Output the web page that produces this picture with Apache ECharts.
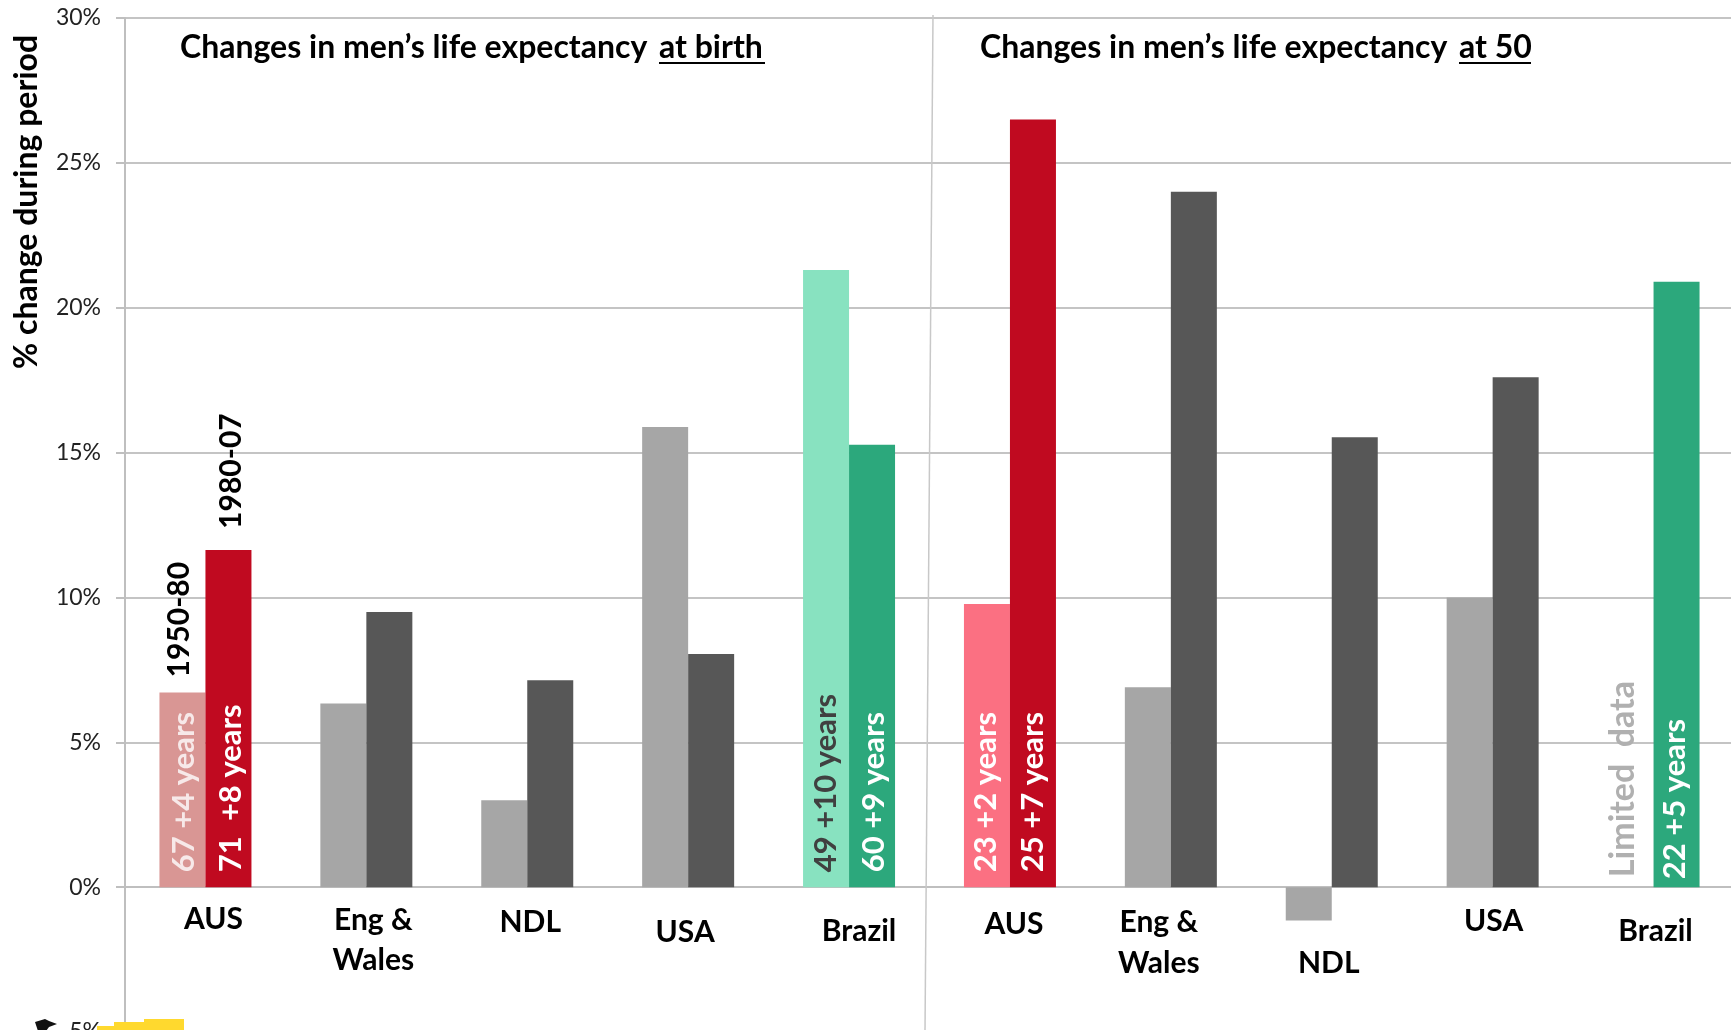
<!DOCTYPE html>
<html><head><meta charset="utf-8">
<style>html,body{margin:0;padding:0;background:#fff;overflow:hidden}#c{width:1731px;height:1030px}</style>
<script src="https://cdn.jsdelivr.net/npm/echarts@6/dist/echarts.min.js"></script>
</head><body><div id="c"></div>
<script>
const categories = ["AUS","Eng &\nWales","NDL","USA","Brazil","AUS","Eng &\nWales","NDL","USA","Brazil"];
const earlyValues = [6.72,6.34,3.0,15.88,21.3,9.77,6.9,-1.15,10.0,null];
const lateValues = [11.64,9.5,7.14,8.05,15.27,26.5,24.0,15.53,17.6,20.9];
const earlyText = ["67 +4 years",null,null,null,"49 +10 years","23 +2 years",null,null,null,null];
const lateText = ["71  +8 years",null,null,null,"60 +9 years","25 +7 years",null,null,null,"22 +5 years"];
const earlyColors = ["#D99694","#A6A6A6","#A6A6A6","#A6A6A6","#88E2C0","#FB7082","#A6A6A6","#A6A6A6","#A6A6A6","#A6A6A6"];
const lateColors = ["#C00A20","#575757","#575757","#575757","#2CA87C","#C00A20","#575757","#575757","#575757","#2CA87C"];
const earlyNote = [0,null,null,null,null,null,null,null,null,0];
const lateNote = [0,null,null,null,null,null,null,null,null,null];
const earlyNoteText = ["1950-80",null,null,null,null,null,null,null,null,"Limited  data"];
const lateNoteText = ["1980-07",null,null,null,null,null,null,null,null,null];
const yTicks = {min:-5,max:30,interval:5};
const titles = ["Changes in men\u2019s life expectancy ","at birth","Changes in men\u2019s life expectancy ","at 50"];
const yTitle = "% change during period";

const FONT = 'Lato';
// [dx, top padding, second-line top padding] of each category label
const labelPlace = [[8,4,0],[7,6,7],[3,10,0],[-3,30,0],[10,29,0],[4,15,0],[-12,11,12],[-3,92,0],[1,8,0],[2,29,0]];
const rich = {};
labelPlace.forEach((p,i)=>{
  const pad = [p[1], p[0]<0?-2*p[0]:0, 0, p[0]>0?2*p[0]:0];
  const base = {fontFamily:FONT,fontWeight:'bold',fontSize:30,color:'#000',lineHeight:40};
  rich['a'+i] = Object.assign({},base,{padding:pad});
  rich['b'+i] = Object.assign({},base,{padding:[p[2],pad[1],0,pad[3]]});
});
const earlyOff = {0:2,4:0,5:-1}, lateOff = {0:3,4:2,5:0,9:-2};
const innerLabel = (text,i,col,dist,off)=> text ? {show:true,formatter:text,position:'insideBottom',rotate:90,align:'left',verticalAlign:'middle',distance:dist,offset:[0,off],color:col,fontFamily:FONT,fontWeight:'bold',fontSize:31} : {show:false};
const innerColors = {0:'#F7E9E9',4:'#404040'};
const chart = echarts.init(document.getElementById('c'),null,{renderer:'canvas'});
const noteLabel = (text,dist,off,col,size)=>({show:true,formatter:text,position:'top',rotate:90,align:'left',verticalAlign:'middle',distance:dist,offset:[0,off],color:col,fontFamily:FONT,fontWeight:'bold',fontSize:size});
chart.setOption({
  animation:false,
  backgroundColor:'#fff',
  grid:{left:125,top:18,width:1609,height:1014,containLabel:false,outerBoundsMode:'none'},
  xAxis:{type:'category',data:categories,axisTick:{show:false},offset:-144.86,
    axisLine:{onZero:false,lineStyle:{color:'#BFBFBF',width:2}},
    axisLabel:{interval:0,margin:10,verticalAlign:'top',hideOverlap:false,
      formatter:(v,i)=>{const l=v.split('\n');return l.length>1?`{a${i}|${l[0]}}\n{b${i}|${l[1]}}`:`{a${i}|${l[0]}}`;},rich}},
  yAxis:{type:'value',min:yTicks.min,max:yTicks.max,interval:yTicks.interval,
    axisLine:{show:true,onZero:false,lineStyle:{color:'#BFBFBF',width:2}},
    axisTick:{show:true,length:9,lineStyle:{color:'#BFBFBF',width:2}},
    splitLine:{show:true,lineStyle:{color:'#C4C4C4',width:2}},
    axisLabel:{formatter:'{value}%',margin:24,color:'#222',fontFamily:FONT,fontSize:23,hideOverlap:false}},
  series:[
    {type:'bar',name:'early',stack:'a',barWidth:46,barGap:0,
     data:earlyValues.map((v,i)=>({value:v,itemStyle:{color:earlyColors[i]},label:innerLabel(earlyText[i],i,innerColors[i]||'#fff',15,earlyOff[i]||0)}))},
    {type:'bar',name:'earlyNote',stack:'a',barWidth:46,barGap:0,
     data:earlyNote.map((v,i)=>({value:v,itemStyle:{color:'transparent'},label:earlyNoteText[i]?noteLabel(earlyNoteText[i],i==0?15:10,i==0?-3:-8,i==0?'#000':'#B0B0B0',i==0?30:34):{show:false}}))},
    {type:'bar',name:'late',stack:'b',barWidth:46,
     data:lateValues.map((v,i)=>({value:v,itemStyle:{color:lateColors[i]},label:innerLabel(lateText[i],i,'#fff',i==9?8:15,lateOff[i]||0)}))},
    {type:'bar',name:'lateNote',stack:'b',barWidth:46,
     data:lateNote.map((v,i)=>({value:v,itemStyle:{color:'transparent'},label:lateNoteText[i]?noteLabel(lateNoteText[i],21,3,'#000',30):{show:false}}))}
  ],
  graphic:[
    {type:'line',z:5,shape:{x1:933,y1:15,x2:925,y2:1030},style:{stroke:'#C8C8C8',lineWidth:1.5}},
    {type:'text',z:10,x:27,y:202,rotation:Math.PI/2,originX:0,originY:0,style:{text:yTitle,x:0,y:0,align:'center',verticalAlign:'middle',font:'bold 32px '+FONT,fill:'#000'}},
    {type:'text',z:10,x:180,y:48,style:{text:titles[0],verticalAlign:'middle',font:'bold 32px '+FONT,fill:'#000'}},
    {type:'text',z:10,x:659,y:48,style:{text:titles[1],verticalAlign:'middle',font:'bold 32px '+FONT,fill:'#000'}},
    {type:'line',z:10,shape:{x1:659,y1:63,x2:765,y2:63},style:{stroke:'#000',lineWidth:2}},
    {type:'text',z:10,x:980,y:48,style:{text:titles[2],verticalAlign:'middle',font:'bold 32px '+FONT,fill:'#000'}},
    {type:'text',z:10,x:1459,y:48,style:{text:titles[3],verticalAlign:'middle',font:'bold 32px '+FONT,fill:'#000'}},
    {type:'line',z:10,shape:{x1:1459,y1:63,x2:1531,y2:63},style:{stroke:'#000',lineWidth:2}},
    {type:'rect',z:20,shape:{x:144,y:1019,width:40,height:12},style:{fill:'#FFD92E'}},
    {type:'rect',z:20,shape:{x:114,y:1022,width:30,height:9},style:{fill:'#FFD92E'}},
    {type:'rect',z:20,shape:{x:97,y:1026,width:17,height:5},style:{fill:'#FFD92E'}},
    {type:'polygon',z:20,shape:{points:[[35,1022],[45,1019],[49,1021],[57,1024],[49,1027],[46,1031],[38,1031]]},style:{fill:'#111'}}
  ]
});
</script></body></html>
